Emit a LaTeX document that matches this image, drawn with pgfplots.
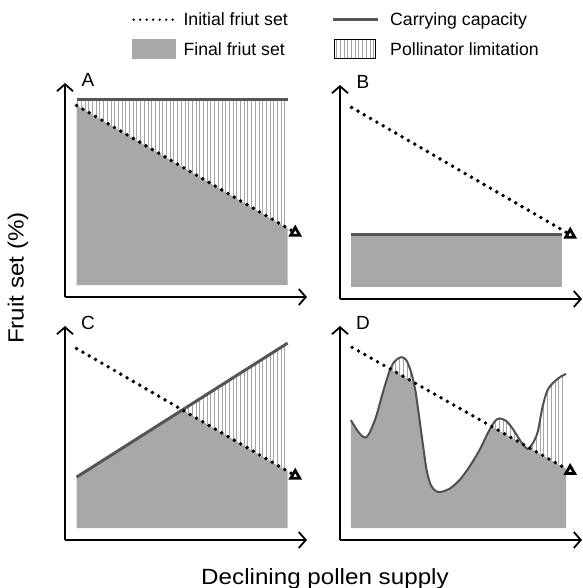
\documentclass[border=0pt]{standalone}
\usepackage{pgfplots}
\pgfplotsset{compat=1.18}
\usepackage{fontspec}
\setmainfont{Liberation Sans}
\newfontfamily\widefont[FakeStretch=1.1]{Liberation Sans}
\usetikzlibrary{arrows.meta,patterns.meta}
\definecolor{fillgray}{RGB}{168,168,168}
\definecolor{ccgray}{RGB}{85,85,85}
\definecolor{hatchgray}{RGB}{165,165,165}
\definecolor{curvegray}{RGB}{80,80,80}
\tikzset{
  dots/.style={black, line width=3.9pt, line cap=round, dash pattern=on 0pt off 7.3pt},
  dotsarrow/.style={dots, -{Triangle[open,length=12pt,width=13pt,line width=2.8pt]}},
  ccline/.style={ccgray, line width=3pt},
  hatch/.style={pattern={Lines[angle=90,distance=3.7pt,line width=1pt]}, pattern color=hatchgray},
}
\pgfplotsset{panel/.style={
  width=242pt, height=214pt, scale only axis,
  xmin=0, xmax=100, ymin=0, ymax=100,
  axis lines=left,
  axis line style={line width=1.8pt, black, -{Straight Barb[length=7pt,width=16pt,line width=1.8pt]}},
  xtick=\empty, ytick=\empty,
  clip=false,
  anchor=south west,
}}
\begin{document}
\begin{tikzpicture}
\path[use as bounding box] (0pt,0pt) rectangle (582pt,588pt);
% Panel A
\begin{axis}[panel, at={(65pt,291pt)},
  legend columns=2, legend cell align=left,
  legend style={at={(0.2769,1.3435)}, anchor=north west, draw=none, fill=none,
    inner sep=0pt, outer sep=0pt, row sep=9pt,
    font=\fontsize{17.7}{21}\selectfont,
    nodes={inner sep=0pt, text height=16pt, text depth=4pt, anchor=west},
    /tikz/every odd column/.append style={column sep=4pt}}]
\addplot[fill=fillgray, draw=none, forget plot] coordinates {(4.8,5.5) (4.8,89.5) (92,32.1) (92,5.5)} -- cycle;
\addplot[hatch, draw=none, forget plot] coordinates {(4.8,89.5) (4.8,92.5) (92,92.5) (92,32.1)} -- cycle;
\addplot[ccline, forget plot] coordinates {(4.8,92.5) (92,92.5)};
\addplot[dotsarrow, forget plot] coordinates {(4.8,89.5) (98,28.2)};
\node[font=\fontsize{19}{22}\selectfont] at (axis cs:9.5,101.5) {A};
\addlegendimage{legend image code/.code={\draw[black, line width=2.6pt, line cap=round, dash pattern=on 0pt off 6.5pt] (1.5pt,0pt) -- (46pt,0pt); \path (0pt,-10pt) (46pt,10pt);}}
\addlegendentry{\makebox[148pt][l]{Initial friut set}}
\addlegendimage{legend image code/.code={\draw[ccgray, line width=3pt] (0pt,0pt) -- (45pt,0pt); \path (0pt,-10pt) (53pt,10pt);}}
\addlegendentry{Carrying capacity}
\addlegendimage{legend image code/.code={\fill[fillgray] (0pt,-9.5pt) rectangle (43pt,9.5pt); \path (0pt,-10pt) (46pt,10pt);}}
\addlegendentry{\makebox[148pt][l]{Final friut set}}
\addlegendimage{legend image code/.code={\fill[pattern={Lines[angle=90,distance=3.7pt,line width=1pt]}, pattern color=hatchgray] (1pt,-9.5pt) rectangle (42pt,9.5pt); \path (0pt,-10pt) (53pt,10pt);}}
\addlegendentry{Pollinator limitation}
\end{axis}
% Panel B
\begin{axis}[panel, at={(340pt,289pt)}]
\addplot[fill=fillgray, draw=none] coordinates {(4.5,5.6) (4.5,30) (91.7,30) (91.7,5.6)} -- cycle;
\addplot[ccline] coordinates {(4.5,30) (91.7,30)};
\addplot[dotsarrow] coordinates {(4.8,89.5) (98,28.2)};
\node[font=\fontsize{19}{22}\selectfont] at (axis cs:9.5,101.5) {B};
\end{axis}
% Panel C
\begin{axis}[panel, at={(65pt,48pt)}]
\addplot[fill=fillgray, draw=none] coordinates {(4.8,5.5) (4.8,29.4) (48.5,60.8) (92,32.1) (92,5.5)} -- cycle;
\addplot[hatch, draw=none] coordinates {(48.5,60.8) (92,92) (92,32.1)} -- cycle;
\addplot[ccline] coordinates {(4.8,29.4) (92,92)};
\addplot[dotsarrow] coordinates {(4.8,89.5) (98,28.2)};
\node[font=\fontsize{19}{22}\selectfont] at (axis cs:9.5,101.5) {C};
\end{axis}
% Panel D
\begin{axis}[panel, at={(340pt,48pt)}]
\addplot[fill=fillgray, draw=none] coordinates {
(4.5,5.6) (4.5,56.0) (6.6,52.1) (8.7,49.0) (10.5,47.9) (12.1,49.8) (14.9,57.6) (17.6,68.5) (20.4,78.7)
(20.9,79.8) (30.3,73.8)
(31.1,70.1) (32.5,59.2) (34.2,45.1) (35.8,32.6) (37.6,25.5) (39.7,22.8) (41.7,22.5) (45.2,23.9) (49.3,27.9) (53.4,34.1) (57.6,41.9) (61.0,49.8)
(62.66,53.0) (75.9,44.6) (77.5,42.6) (78.0,43.2) (93.4,33.3) (93.4,5.6)} -- cycle;
\addplot[hatch, draw=none] coordinates {(20.9,79.8) (22.5,83.4) (25.2,85.4) (27.3,84.2) (29.3,78.7) (30.3,73.8)} -- cycle;
\addplot[hatch, draw=none] coordinates {(62.66,53.0) (63.8,55.2) (65.8,56.8) (68.6,55.7) (71.3,52.1) (74.8,45.9) (75.9,44.6)} -- cycle;
\addplot[hatch, draw=none] coordinates {(78.0,43.2) (79.6,45.1) (81.7,50.5) (83.7,62.3) (85.8,70.1) (88.6,74.0) (91.3,76.4) (93.4,77.6) (93.4,33.3)} -- cycle;
\addplot[curvegray, line width=2pt, smooth] coordinates {
(4.5,56.0) (6.6,52.1) (8.7,49.0) (10.5,47.9) (12.1,49.8) (14.9,57.6) (17.6,68.5) (20.4,78.7) (22.5,83.4) (25.2,85.4) (27.3,84.2) (29.3,78.7) (31.1,70.1) (32.5,59.2) (34.2,45.1) (35.8,32.6) (37.6,25.5) (39.7,22.8) (41.7,22.5) (45.2,23.9) (49.3,27.9) (53.4,34.1) (57.6,41.9) (61.0,49.8) (63.8,55.2) (65.8,56.8) (68.6,55.7) (71.3,52.1) (74.8,45.9) (77.5,42.6) (79.6,45.1) (81.7,50.5) (83.7,62.3) (85.8,70.1) (88.6,74.0) (91.3,76.4) (93.4,77.6)};
\addplot[dotsarrow] coordinates {(5,90) (98,30.4)};
\node[font=\fontsize{19}{22}\selectfont] at (axis cs:9.5,101.5) {D};
\end{axis}
\node[rotate=90, font=\widefont\fontsize{22}{26}\selectfont] at (18pt,310pt) {Fruit set (\%)};
\node[anchor=base, font=\widefont\fontsize{22}{26}\selectfont] at (325pt,4pt) {Declining pollen supply};
\end{tikzpicture}
\end{document}
